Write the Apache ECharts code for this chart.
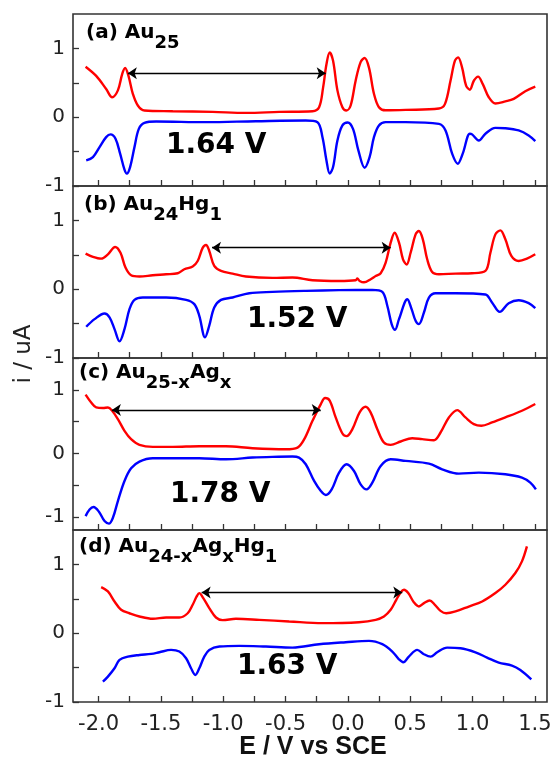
<!DOCTYPE html>
<html><head><meta charset="utf-8">
<script src="https://cdn.jsdelivr.net/npm/echarts@6/dist/echarts.min.js"></script>
<style>html,body{margin:0;padding:0;background:#fff}#c{width:555px;height:757px}</style>
</head><body><div id="c"></div>
<script>
// ---------- data ----------
const xTickValues = [-2,-1.75,-1.5,-1.25,-1,-0.75,-0.5,-0.25,0,0.25,0.5,0.75,1,1.25,1.5];
const xLabelValues = [-2,-1.5,-1,-0.5,0,0.5,1,1.5];
const yTickValues = [-1,-0.5,0,0.5,1];
const yLabelValues = [-1,0,1];
const xMin = -2.205, xMax = 1.597;
const panelYMin = [-1,-1,-1.2,-1];
const panelYMax = [1.5,1.5,1.5,1.5];

const redA = [[-2.104,0.734],[-2.019,0.60],[-1.939,0.41],[-1.891,0.29],[-1.845,0.39],[-1.81,0.63],[-1.787,0.715],[-1.76,0.60],[-1.725,0.34],[-1.685,0.17],[-1.632,0.097],[-1.405,0.087],[-1.085,0.077],[-0.818,0.063],[-0.551,0.077],[-0.284,0.087],[-0.231,0.145],[-0.199,0.43],[-0.172,0.77],[-0.146,0.94],[-0.119,0.82],[-0.084,0.39],[-0.044,0.145],[-0.012,0.097],[0.022,0.17],[0.062,0.53],[0.102,0.80],[0.134,0.86],[0.169,0.72],[0.209,0.34],[0.249,0.145],[0.303,0.10],[0.463,0.106],[0.73,0.126],[0.778,0.19],[0.823,0.53],[0.858,0.82],[0.884,0.87],[0.916,0.72],[0.948,0.46],[0.978,0.40],[1.01,0.53],[1.044,0.59],[1.082,0.48],[1.13,0.29],[1.183,0.20],[1.263,0.23],[1.33,0.266],[1.423,0.377],[1.503,0.444]];
const blueA = [[-2.099,-0.628],[-2.045,-0.58],[-1.992,-0.435],[-1.939,-0.29],[-1.904,-0.25],[-1.864,-0.314],[-1.827,-0.53],[-1.792,-0.763],[-1.773,-0.82],[-1.747,-0.725],[-1.712,-0.435],[-1.677,-0.17],[-1.632,-0.082],[-1.538,-0.063],[-1.138,-0.072],[-0.738,-0.058],[-0.338,-0.048],[-0.244,-0.072],[-0.204,-0.29],[-0.172,-0.628],[-0.146,-0.82],[-0.119,-0.725],[-0.084,-0.338],[-0.044,-0.12],[-0.002,-0.077],[0.041,-0.17],[0.084,-0.483],[0.134,-0.734],[0.174,-0.58],[0.209,-0.29],[0.249,-0.12],[0.303,-0.072],[0.463,-0.072],[0.73,-0.097],[0.783,-0.193],[0.836,-0.53],[0.881,-0.676],[0.921,-0.53],[0.978,-0.24],[0.996,-0.25],[1.05,-0.338],[1.103,-0.24],[1.183,-0.155],[1.263,-0.16],[1.37,-0.193],[1.45,-0.266],[1.503,-0.348]];

const redB = [[-2.104,0.517],[-2.045,0.47],[-1.979,0.444],[-1.925,0.507],[-1.867,0.614],[-1.824,0.53],[-1.784,0.314],[-1.739,0.203],[-1.672,0.184],[-1.565,0.203],[-1.458,0.217],[-1.365,0.232],[-1.312,0.29],[-1.245,0.33],[-1.205,0.41],[-1.165,0.60],[-1.138,0.643],[-1.112,0.556],[-1.072,0.338],[-1.018,0.266],[-0.925,0.227],[-0.818,0.184],[-0.605,0.164],[-0.445,0.169],[-0.284,0.13],[-0.071,0.12],[0.062,0.13],[0.076,0.155],[0.094,0.12],[0.129,0.10],[0.183,0.145],[0.223,0.193],[0.263,0.232],[0.303,0.386],[0.343,0.676],[0.375,0.82],[0.41,0.676],[0.442,0.435],[0.471,0.36],[0.503,0.53],[0.543,0.797],[0.569,0.845],[0.601,0.725],[0.636,0.435],[0.676,0.25],[0.73,0.217],[0.863,0.227],[0.996,0.232],[1.103,0.266],[1.143,0.53],[1.183,0.797],[1.223,0.855],[1.263,0.725],[1.311,0.483],[1.37,0.41],[1.436,0.444],[1.503,0.507]];
const blueB = [[-2.099,-0.546],[-2.032,-0.435],[-1.952,-0.353],[-1.912,-0.41],[-1.872,-0.58],[-1.832,-0.758],[-1.792,-0.58],[-1.752,-0.29],[-1.712,-0.155],[-1.645,-0.121],[-1.458,-0.121],[-1.298,-0.155],[-1.232,-0.217],[-1.192,-0.386],[-1.146,-0.70],[-1.112,-0.53],[-1.072,-0.266],[-1.018,-0.155],[-0.925,-0.121],[-0.791,-0.058],[-0.605,-0.039],[-0.338,-0.024],[-0.071,-0.014],[0.196,-0.01],[0.276,-0.039],[0.316,-0.24],[0.351,-0.507],[0.378,-0.59],[0.41,-0.435],[0.477,-0.145],[0.511,-0.29],[0.543,-0.46],[0.569,-0.507],[0.61,-0.338],[0.65,-0.121],[0.703,-0.058],[0.863,-0.058],[1.103,-0.077],[1.156,-0.193],[1.218,-0.33],[1.29,-0.203],[1.37,-0.16],[1.45,-0.203],[1.503,-0.275]];

const redC = [[-2.104,0.924],[-2.059,0.80],[-2.019,0.724],[-1.965,0.714],[-1.925,0.724],[-1.891,0.672],[-1.845,0.54],[-1.792,0.357],[-1.739,0.226],[-1.672,0.136],[-1.565,0.105],[-1.405,0.105],[-1.192,0.115],[-0.978,0.115],[-0.765,0.084],[-0.498,0.068],[-0.404,0.094],[-0.35,0.226],[-0.284,0.514],[-0.217,0.777],[-0.183,0.871],[-0.146,0.83],[-0.098,0.567],[-0.044,0.315],[-0.01,0.273],[0.036,0.383],[0.094,0.646],[0.142,0.735],[0.182,0.646],[0.236,0.383],[0.289,0.173],[0.343,0.136],[0.423,0.189],[0.516,0.241],[0.596,0.226],[0.69,0.21],[0.743,0.33],[0.81,0.567],[0.877,0.682],[0.943,0.567],[1.01,0.462],[1.071,0.436],[1.156,0.488],[1.263,0.567],[1.396,0.672],[1.503,0.777]];
const blueC = [[-2.104,-0.982],[-2.072,-0.877],[-2.04,-0.84],[-1.997,-0.913],[-1.952,-1.06],[-1.917,-1.10],[-1.885,-1.008],[-1.845,-0.745],[-1.792,-0.43],[-1.739,-0.231],[-1.672,-0.126],[-1.565,-0.073],[-1.405,-0.073],[-1.192,-0.073],[-0.978,-0.089],[-0.765,-0.063],[-0.605,-0.052],[-0.445,-0.047],[-0.392,-0.063],[-0.338,-0.168],[-0.271,-0.43],[-0.217,-0.588],[-0.177,-0.651],[-0.13,-0.562],[-0.071,-0.30],[-0.01,-0.168],[0.049,-0.273],[0.102,-0.483],[0.15,-0.562],[0.196,-0.457],[0.263,-0.194],[0.343,-0.089],[0.463,-0.115],[0.65,-0.157],[0.756,-0.247],[0.89,-0.315],[1.05,-0.30],[1.263,-0.325],[1.396,-0.378],[1.463,-0.457],[1.508,-0.562]];

const redD = [[-1.979,0.67],[-1.925,0.607],[-1.872,0.461],[-1.819,0.34],[-1.752,0.29],[-1.672,0.243],[-1.565,0.209],[-1.458,0.228],[-1.352,0.228],[-1.285,0.29],[-1.245,0.413],[-1.213,0.534],[-1.192,0.583],[-1.16,0.51],[-1.112,0.364],[-1.058,0.228],[-1.005,0.19],[-0.898,0.209],[-0.711,0.194],[-0.471,0.17],[-0.204,0.146],[0.089,0.16],[0.223,0.194],[0.289,0.243],[0.343,0.34],[0.388,0.485],[0.423,0.592],[0.45,0.631],[0.484,0.583],[0.53,0.447],[0.57,0.388],[0.61,0.437],[0.655,0.476],[0.698,0.413],[0.743,0.325],[0.788,0.29],[0.863,0.316],[0.97,0.388],[1.077,0.461],[1.183,0.583],[1.263,0.704],[1.343,0.874],[1.396,1.044],[1.436,1.262]];
const blueD = [[-1.965,-0.704],[-1.925,-0.631],[-1.872,-0.51],[-1.832,-0.388],[-1.765,-0.34],[-1.672,-0.316],[-1.578,-0.301],[-1.512,-0.277],[-1.418,-0.243],[-1.352,-0.267],[-1.298,-0.364],[-1.258,-0.51],[-1.224,-0.607],[-1.192,-0.51],[-1.152,-0.34],[-1.112,-0.243],[-1.031,-0.194],[-0.871,-0.184],[-0.658,-0.194],[-0.445,-0.209],[-0.231,-0.16],[-0.018,-0.131],[0.169,-0.112],[0.276,-0.16],[0.356,-0.267],[0.409,-0.379],[0.444,-0.422],[0.489,-0.34],[0.556,-0.243],[0.61,-0.306],[0.663,-0.34],[0.716,-0.277],[0.796,-0.209],[0.903,-0.218],[1.023,-0.277],[1.116,-0.354],[1.21,-0.427],[1.316,-0.471],[1.383,-0.534],[1.471,-0.67]];

// arrows: [E start, E end, i]
const arrowA = [-1.765, -0.178, 0.638];
const arrowB = [-1.09, 0.343, 0.604];
const arrowC = [-1.893, -0.218, 0.682];
const arrowD = [-1.173, 0.436, 0.592];

const panelLabels = ['{m|(a) Au}{s|25}', '{m|(b) Au}{s|24}{m|Hg}{s|1}', '{m|(c) Au}{s|25-x}{m|Ag}{s|x}', '{m|(d) Au}{s|24-x}{m|Ag}{s|x}{m|Hg}{s|1}'];
const gapLabels = ['1.64 V', '1.52 V', '1.78 V', '1.63 V'];
const xAxisTitle = 'E / V vs SCE';
const yAxisTitle = 'i / uA';

// ---------- layout ----------
const reds = [redA, redB, redC, redD];
const blues = [blueA, blueB, blueC, blueD];
const arrows = [arrowA, arrowB, arrowC, arrowD];
const gridTops = [14, 186, 358, 530];
const gridH = 172, gridLeft = 73, gridW = 474;
const FONT = 'DejaVu Sans';
const panelLabelPos = [[86, 28], [84, 200], [79, 368], [79, 542]];
const gapLabelPos = [[166, 146], [247, 320], [170, 495], [237, 667]];

const grids = [], xAxes = [], yAxes = [], series = [];
for (let i = 0; i < 4; i++) {
  grids.push({left: gridLeft, top: gridTops[i], width: gridW, height: gridH, show: true,
    borderColor: '#333', borderWidth: 1.6, backgroundColor: 'transparent'});
  xAxes.push({
    gridIndex: i, type: 'value', min: xMin, max: xMax, position: 'bottom',
    axisLine: {show: false, onZero: false},
    splitLine: {show: false},
    axisTick: {show: true, inside: true, length: 6, customValues: xTickValues,
      lineStyle: {color: '#333', width: 1.3}},
    axisLabel: {show: i === 3, customValues: xLabelValues, margin: 12,
      formatter: v => v.toFixed(1), fontSize: 21, color: '#222', fontFamily: FONT}
  });
  yAxes.push({
    gridIndex: i, type: 'value', min: panelYMin[i], max: panelYMax[i], position: 'left',
    axisLine: {show: false, onZero: false},
    splitLine: {show: false},
    axisTick: {show: true, inside: true, length: 6, customValues: yTickValues,
      lineStyle: {color: '#333', width: 1.3}},
    axisLabel: {show: true, customValues: yLabelValues, margin: 8,
      formatter: v => String(Math.round(v)), fontSize: 20, color: '#222', fontFamily: FONT}
  });
  const ar = arrows[i];
  series.push({
    type: 'line', xAxisIndex: i, yAxisIndex: i, data: reds[i], showSymbol: false,
    smooth: 0.35, lineStyle: {color: '#ff0000', width: 2.4}, itemStyle: {color: '#ff0000'},
    silent: true, animation: false, emphasis: {disabled: true},
    markLine: {
      silent: true, animation: false, symbol: ['arrow', 'arrow'], symbolSize: 9,
      lineStyle: {color: '#000', width: 1.4, type: 'solid'},
      label: {show: false}, emphasis: {disabled: true},
      data: [[{coord: [ar[0], ar[2]]}, {coord: [ar[1], ar[2]]}]]
    }
  });
  series.push({
    type: 'line', xAxisIndex: i, yAxisIndex: i, data: blues[i], showSymbol: false,
    smooth: 0.35, lineStyle: {color: '#0000ff', width: 2.4}, itemStyle: {color: '#0000ff'},
    silent: true, animation: false, emphasis: {disabled: true}
  });
}

const graphics = [];
for (let i = 0; i < 4; i++) {
  graphics.push({
    type: 'text', x: panelLabelPos[i][0], y: panelLabelPos[i][1], silent: true,
    style: {
      text: panelLabels[i], align: 'left', verticalAlign: 'top', fill: '#000',
      rich: {
        m: {fontFamily: FONT, fontWeight: 'bold', fontSize: 20, lineHeight: 20, padding: [0, 0, 11, 0], verticalAlign: 'middle', fill: '#000'},
        s: {fontFamily: FONT, fontWeight: 'bold', fontSize: 18, lineHeight: 20, padding: [11, 0, 0, 0], verticalAlign: 'middle', fill: '#000'}
      }
    }
  });
  graphics.push({
    type: 'text', x: gapLabelPos[i][0], y: gapLabelPos[i][1], silent: true,
    style: {text: gapLabels[i], fontFamily: FONT, fontWeight: 'bold', fontSize: 28,
      fill: '#000', align: 'left', verticalAlign: 'middle'}
  });
}
graphics.push({
  type: 'text', x: 313, y: 747, silent: true,
  style: {text: xAxisTitle, fontFamily: 'Liberation Sans', fontWeight: 'bold', fontSize: 25,
    fill: '#111', align: 'center', verticalAlign: 'middle'}
});
graphics.push({
  type: 'text', x: 24, y: 354, rotation: Math.PI / 2, silent: true,
  style: {text: yAxisTitle, fontFamily: FONT, fontSize: 23,
    fill: '#222', align: 'center', verticalAlign: 'middle'}
});

const chart = echarts.init(document.getElementById('c'), null, {renderer: 'canvas'});
chart.setOption({
  animation: false,
  backgroundColor: '#fff',
  grid: grids, xAxis: xAxes, yAxis: yAxes, series: series,
  graphic: graphics
});
</script></body></html>
